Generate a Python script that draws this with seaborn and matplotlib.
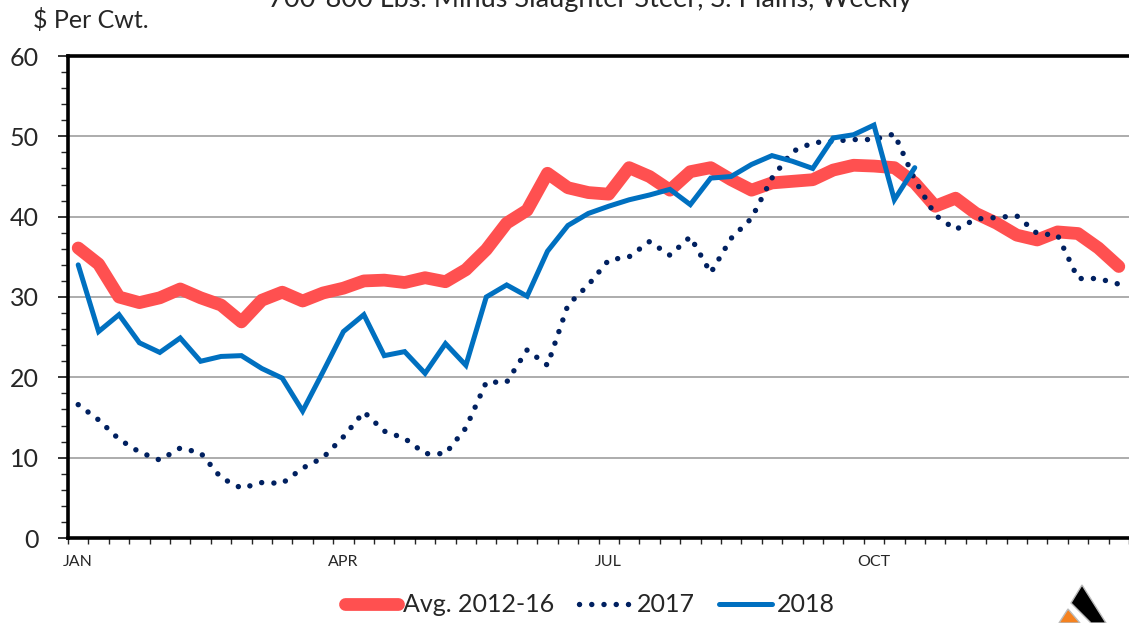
import numpy as np
import pandas as pd
import matplotlib
matplotlib.use('Agg')
import matplotlib.pyplot as plt
from matplotlib.patches import Polygon
from matplotlib.ticker import MultipleLocator, FixedLocator
import seaborn as sns

# Valores semanais ($ por cwt)
avg_2012_16 = [36.1, 34.1, 30.0, 29.3, 29.9, 31.0, 29.9, 29.0, 26.9, 29.6,
               30.6, 29.5, 30.5, 31.1, 32.0, 32.1, 31.8, 32.4, 31.9, 33.4,
               35.9, 39.2, 40.8, 45.4, 43.6, 43.0, 42.8, 46.1, 45.0, 43.3,
               45.6, 46.1, 44.6, 43.3, 44.2, 44.4, 44.6, 45.8, 46.4, 46.3,
               46.1, 44.2, 41.3, 42.3, 40.4, 39.2, 37.7, 37.1, 38.1, 37.9,
               36.1, 33.8]
y2017 = [16.6, 14.7, 12.3, 10.7, 9.7, 11.2, 10.6, 7.5, 6.2, 6.9,
         6.8, 8.7, 10.0, 12.6, 15.7, 13.3, 12.4, 10.5, 10.5, 13.7,
         19.4, 19.4, 23.4, 21.5, 29.0, 31.5, 34.6, 35.0, 36.9, 35.2,
         37.5, 33.0, 37.3, 39.8, 44.8, 48.1, 49.2, 49.4, 49.6, 49.6,
         50.3, 44.6, 40.2, 38.4, 39.7, 39.9, 40.1, 37.9, 37.7, 32.3,
         32.3, 31.6]
y2018 = [34.0, 25.7, 27.8, 24.3, 23.1, 24.9, 22.0, 22.6, 22.7, 21.1,
         19.9, 15.8, 20.7, 25.7, 27.8, 22.7, 23.2, 20.5, 24.2, 21.5,
         30.0, 31.5, 30.1, 35.7, 38.9, 40.4, 41.3, 42.1, 42.7, 43.4,
         41.5, 44.8, 45.0, 46.5, 47.6, 46.9, 46.0, 49.8, 50.2, 51.4,
         42.1, 46.1]
month_labels = ['JAN', 'APR', 'JUL', 'OCT']
month_weeks = [0, 13, 26, 39]

sns.set_style('white')
plt.rcParams['font.family'] = ['Lato', 'DejaVu Sans']

W, H = 1129, 623
fig = plt.figure(figsize=(W / 100, H / 100), dpi=100)
ax = fig.add_axes([68 / W, 1 - 538 / H, 1 - 68 / W, (538 - 56) / H])

sns.lineplot(x=np.arange(len(avg_2012_16)), y=avg_2012_16, ax=ax, color='#FF5050',
             lw=9.2, solid_capstyle='round', solid_joinstyle='round',
             label='Avg. 2012-16', zorder=2)
sns.lineplot(x=np.arange(len(y2017)), y=y2017, ax=ax, color='#002060',
             lw=3.9, linestyle=(0, (0.01, 2.25)), dash_capstyle='round',
             label='2017', zorder=3)
sns.lineplot(x=np.arange(len(y2018)), y=y2018, ax=ax, color='#0070C0',
             lw=3.6, solid_capstyle='round', solid_joinstyle='miter',
             label='2018', zorder=4)

ax.set_xlim(-0.5, 51.5)
ax.set_ylim(0, 60)
ax.set_xlabel('')
ax.set_ylabel('')

# eixo y
ax.yaxis.set_major_locator(MultipleLocator(10))
ax.yaxis.set_minor_locator(MultipleLocator(2))
ax.tick_params(axis='y', which='major', left=True, length=7, width=1.3,
               labelsize=18, pad=14, direction='out')
ax.tick_params(axis='y', which='minor', left=True, length=5, width=1.0,
               direction='out')

# eixo x
ax.xaxis.set_major_locator(FixedLocator(month_weeks))
ax.set_xticklabels(month_labels)
ax.xaxis.set_minor_locator(FixedLocator(np.arange(-0.5, 52, 1)))
ax.tick_params(axis='x', which='major', bottom=True, length=0, labelsize=11.5, pad=12)
ax.tick_params(axis='x', which='minor', bottom=True, length=4.5, width=1.0,
               direction='out')

ax.grid(axis='y', color='#A6A6A6', lw=1.3)
ax.grid(axis='x', visible=False)
ax.set_axisbelow(True)

for s in ['left', 'top', 'bottom']:
    ax.spines[s].set_visible(True)
    ax.spines[s].set_color('black')
    ax.spines[s].set_linewidth(2.6)
ax.spines['right'].set_visible(False)

ax.get_legend().remove()
handles, labels = ax.get_legend_handles_labels()
fig.legend(handles, labels, loc='center', bbox_to_anchor=(590 / W, 1 - 605 / H),
           ncol=3, frameon=False, fontsize=18, handlelength=2.1,
           handletextpad=0.2, columnspacing=1.0)

fig.text(33 / W, 1 - 28 / H, '$ Per Cwt.', fontsize=18, ha='left', va='baseline')
fig.text(590 / W, 1 - 7 / H, '700-800 Lbs. Minus Slaughter Steer, S. Plains, Weekly',
         fontsize=19.5, ha='center', va='baseline')

# logo no canto
def px(pts):
    return [(x / W, 1 - y / H) for x, y in pts]

fig.add_artist(Polygon(px([(1082, 585), (1071, 603), (1091, 623), (1106, 623)]),
                       closed=True, transform=fig.transFigure, facecolor='black',
                       edgecolor='#BBBBBB', lw=1))
fig.add_artist(Polygon(px([(1068, 609), (1059, 623), (1080, 623)]),
                       closed=True, transform=fig.transFigure, facecolor='#F58220',
                       edgecolor='#BBBBBB', lw=1))

fig.savefig('out.png', dpi=100)
plt.close()
